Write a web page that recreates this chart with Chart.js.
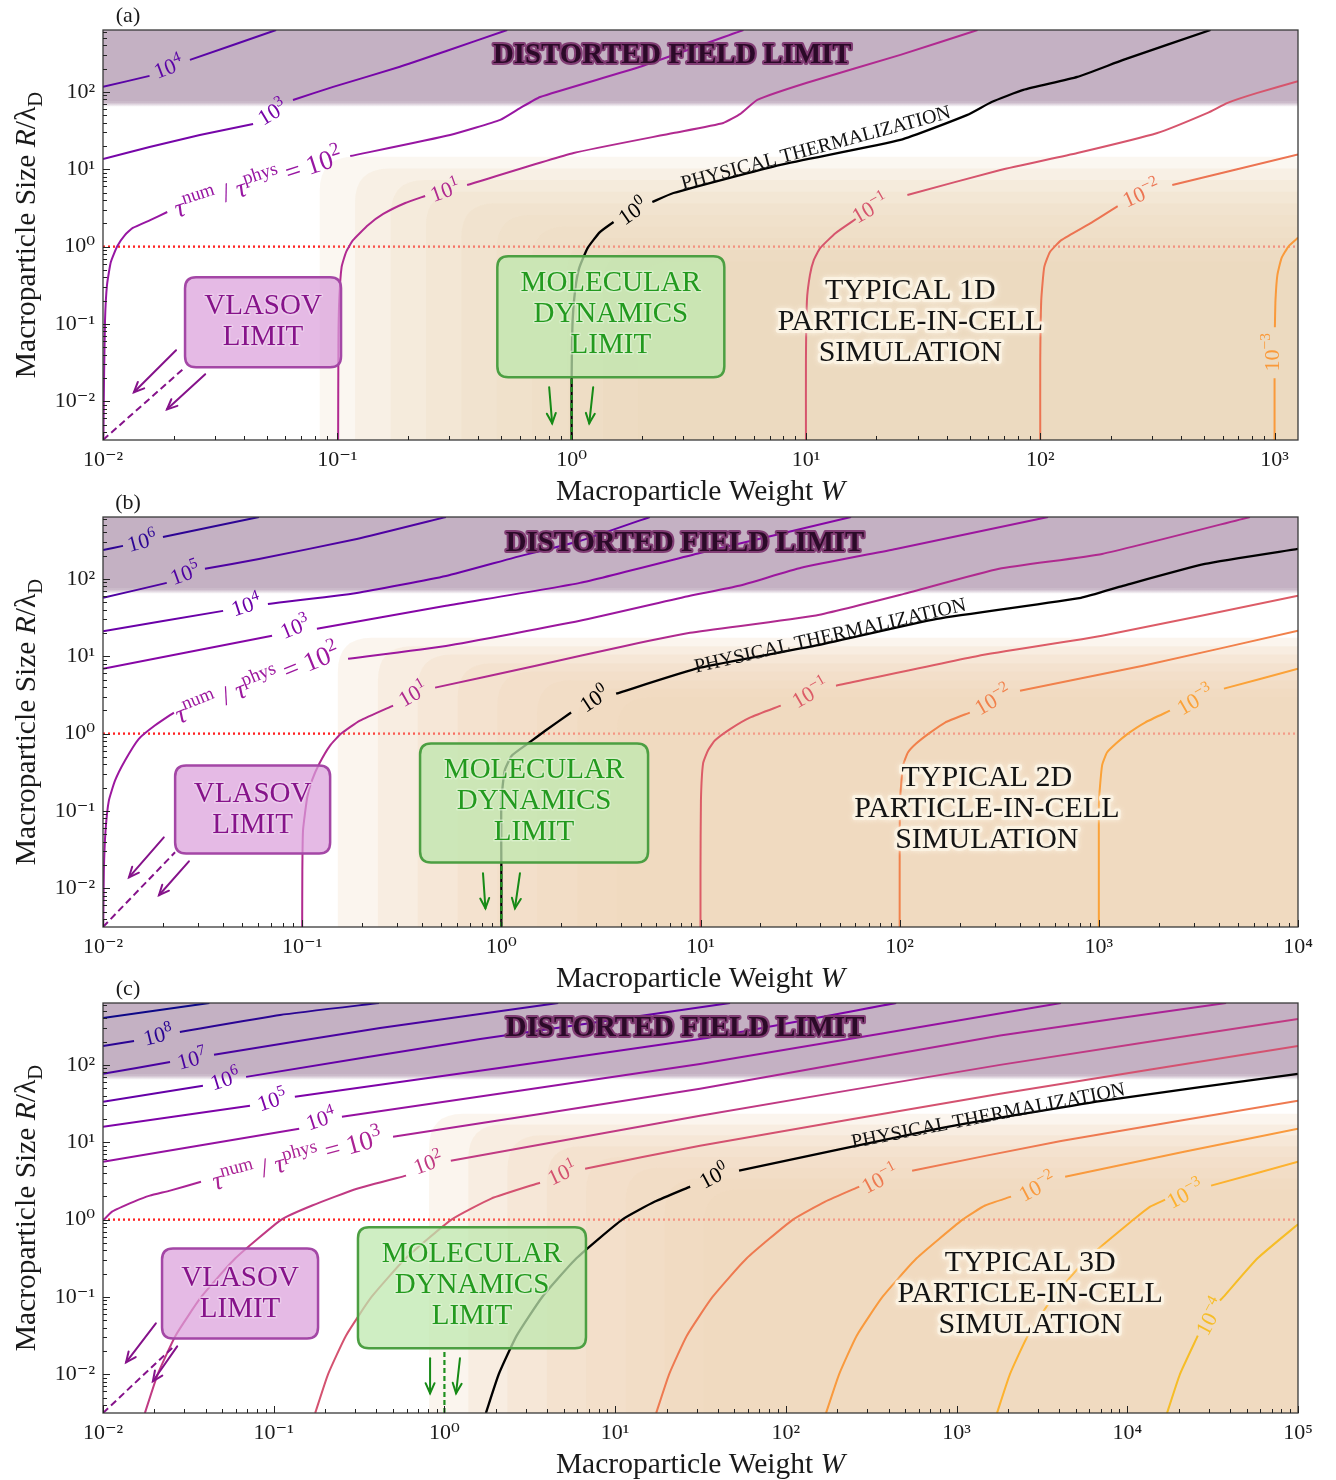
<!DOCTYPE html>
<html>
<head>
<meta charset="utf-8">
<title>Numerical vs physical relaxation time of macroparticles</title>
<script src="https://cdn.jsdelivr.net/npm/chart.js@4.4.1/dist/chart.umd.min.js"></script>
<style>
  html, body { margin: 0; padding: 0; background: #ffffff; }
  #wrap { position: relative; width: 1336px; height: 1480px; overflow: hidden; }
  #wrap canvas { position: absolute; left: 0; }
</style>
</head>
<body>
<div id="wrap">
  <canvas id="pa" width="1336" height="510" style="top:0px"></canvas>
  <canvas id="pb" width="1336" height="510" style="top:487px"></canvas>
  <canvas id="pc" width="1336" height="510" style="top:973px"></canvas>
</div>
<script>
const SERIF = '"Liberation Serif", "DejaVu Serif", serif';

// ---- axes -------------------------------------------------------------
const xMin = 0.01;
const xMaxA = 1259, xMaxB = 1e4, xMaxC = 1e5;
const yMin = 0.00316, yMax = 631;
const xTicksA = [1e-2, 1e-1, 1, 1e1, 1e2, 1e3];
const xTicksB = [1e-2, 1e-1, 1, 1e1, 1e2, 1e3, 1e4];
const xTicksC = [1e-2, 1e-1, 1, 1e1, 1e2, 1e3, 1e4, 1e5];
const yTicks = [1e-2, 1e-1, 1, 1e1, 1e2];
const xTickLabelsA = ['10⁻²', '10⁻¹', '10⁰', '10¹', '10²', '10³'];
const xTickLabelsB = ['10⁻²', '10⁻¹', '10⁰', '10¹', '10²', '10³', '10⁴'];
const xTickLabelsC = ['10⁻²', '10⁻¹', '10⁰', '10¹', '10²', '10³', '10⁴', '10⁵'];
const yTickLabels = ['10⁻²', '10⁻¹', '10⁰', '10¹', '10²'];

// ---- limits -----------------------------------------------------------
const distortedR = 70;   // R/λD above which the field is distorted
const debyeR = 1;        // R = λD

// ---- contours of τnum/τphys, [W, R] points (null = label gap) -----------
// (a) 1D
const a_lvl4 = [[0.01,116],[0.0158,161],null,[0.0235,259],[0.0548,631]];
const a_lvl3 = [[0.01,13.6],[0.0158,19.4],[0.0259,27.7],[0.0437,38.5],null,[0.0647,78.7],[0.096,116],[0.185,211],[0.294,340],[0.531,631]];
const a_lvl2 = [[0.01004,0.00316],[0.0101,0.0187],[0.0102,0.112],[0.0104,0.318],[0.0108,0.631],[0.0115,1.01],[0.0124,1.41],[0.0134,1.74],[0.0159,2.2],[0.0188,2.8],null,[0.1135,14.8],[0.303,27.7],[0.496,43.5],[0.604,62],[0.734,86],[1.96,211],[5.41,631]];
const a_lvl1 = [[0.1008,0.00316],[0.1011,0.0617],[0.1019,0.203],[0.1043,0.543],[0.109,0.85],[0.1167,1.21],[0.1355,1.9],[0.157,2.64],[0.195,3.66],[0.237,4.51],null,[0.358,6.25],[1.02,16.2],[2.72,29.4],[4.44,39.7],[5.25,51.9],[6.2,78.7],[10.1,131],[25.3,301],[54,631]];
const a_lvl0 = [[1.0,0.00316],[1.0,0.0187],[1.01,0.112],[1.035,0.274],[1.077,0.527],[1.17,0.957],[1.32,1.54],[1.51,2.08],null,[2.21,3.77],[2.72,4.93],[7.78,11.4],[25.3,23.9],[48.9,50.4],[62,74],[84.7,106],[144,156],[226,259],[533,631]];
const a_lvlm1 = [[10.0,0.00316],[10.0,0.034],[10.1,0.203],[10.4,0.428],[10.8,0.668],[11.5,0.957],[13.4,1.5],[16.3,2.27],null,[27.1,4.65],[67.6,9.77],[144,16.2],[316,29.4],[518,53.5],[630,72.1],[845,97],[1259,137]];
const a_lvlm2 = [[100,0.00316],[100,0.034],[101,0.203],[104,0.543],[110,0.85],[123,1.21],[164,2.01],[214,3.34],null,[366,6.25],[1259,15.5]];
const a_lvlm3 = [[1000,0.00316],[1000,0.0199],null,[1003,0.0908],[1009,0.203],[1028,0.428],[1071,0.71],[1148,1.01],[1259,1.3]];

// (b) 2D
const b_lvl6 = [[0.01,237],[0.0126,267],null,[0.02,348],[0.0607,631]];
const b_lvl5 = [[0.01,56.9],[0.0209,88.8],null,[0.0325,135],[0.0607,181],[0.188,328],[0.527,631]];
const b_lvl4 = [[0.01,21],[0.0401,38.6],null,[0.0673,47.5],[0.188,65.9],[0.527,109],[1.15,187],[2.48,309],[5.57,631]];
const b_lvl3 = [[0.01,6.9],[0.0706,18.4],null,[0.1186,22.6],[0.527,44.9],[2.48,88.8],[9.93,216],[57,631]];
const b_lvl2 = [[0.01003,0.00316],[0.0101,0.017],[0.0103,0.056],[0.0107,0.136],[0.0115,0.248],[0.0129,0.449],[0.0151,0.85],[0.0182,1.27],[0.0227,1.87],null,[0.17,9.29],[0.527,13.6],[2.48,28.7],[8.86,60.4],[15.6,81.3],[32,139],[95.7,244],[556,631]];
const b_lvl1 = [[0.1,0.00316],[0.1002,0.017],[0.101,0.056],[0.106,0.149],[0.112,0.248],[0.122,0.41],[0.138,0.7],[0.157,1.0],[0.195,1.47],[0.286,2.3],null,[0.465,3.93],[1.49,7.53],[4.18,13.6],[8.86,20.1],[37.2,33.3],[105,64],[316,135],[1038,210],[5740,631]];
const b_lvl0 = [[1.0,0.00316],[1.0,0.021],[1.0,0.136],[1.04,0.333],[1.13,0.52],[1.36,0.743],[1.66,1.09],[2.24,1.87],null,[3.77,3.28],[9.93,7.11],[37.2,13.6],[154,30.5],[813,56.9],[1321,81.3],[3410,156],[10000,244]];
const b_lvlm1 = [[10,0.00316],[10,0.017],[10.05,0.136],[10.3,0.41],[10.9,0.604],[11.8,0.813],[14.2,1.16],[17.7,1.61],[25.3,2.3],null,[47.9,4.16],[247,10.1],[1038,18.4],[10000,60.4]];
const b_lvlm2 = [[100,0.00316],[100,0.017],[100.4,0.136],[104,0.386],[110,0.569],[121,0.743],[140,1.0],[169,1.39],[225,1.87],null,[402,3.59],[1667,7.53],[10000,21.3]];
const b_lvlm3 = [[1000,0.00316],[1000,0.017],[1002,0.136],[1038,0.386],[1099,0.569],[1219,0.743],[1400,1.0],[1706,1.39],[2275,1.98],null,[4246,3.81],[10000,6.9]];

// (c) 3D
const c_lvl9 = [[0.01,404],[0.042,631]];
const c_lvl8 = [[0.01,176],[0.0152,204],null,[0.0282,267],[0.109,442],[0.414,631]];
const c_lvl7 = [[0.01,76.6],[0.0247,109],null,[0.0447,135],[0.42,300],[4.64,631]];
const c_lvl6 = [[0.01,33.3],[0.0385,53.6],null,[0.0689,70],[1.62,216],[47.1,631]];
const c_lvl5 = [[0.01,15.8],[0.0726,29.6],null,[0.133,38.6],[31.4,216],[443,631]];
const c_lvl4 = [[0.01,5.6],[0.141,14.9],null,[0.251,21.3],[31.4,103],[4090,631]];
const c_lvl3 = [[0.01,0.97],[0.0113,1.27],[0.0152,1.71],[0.0188,2.04],[0.0247,2.37],[0.0375,3.09],null,[0.5,11.8],[31.4,49],[1800,240],[37900,631]];
const c_lvl2 = [[0.0176,0.00316],[0.0209,0.01],[0.0266,0.0316],[0.0376,0.1],[0.0596,0.316],[0.111,1.0],[0.168,1.52],[0.307,2.51],[0.596,3.7],null,[1.09,5.77],[31.4,22],[1800,100],[100000,393]];
const c_lvl1 = [[0.175,0.00316],[0.208,0.01],[0.265,0.0316],[0.374,0.1],[0.593,0.316],[1.1,1.0],[1.88,1.87],[3.63,3.0],null,[6.67,4.55],[31.4,9.02],[1800,42.3],[100000,176]];
const c_lvl0 = [[1.75,0.00316],[2.08,0.01],[2.65,0.0316],[3.74,0.1],[5.93,0.316],[11.0,1.0],[17.1,1.71],[27.5,2.67],null,[53.2,4.29],[769,14.9],[7120,34.3],[100000,76.6]];
const c_lvlm1 = [[17.4,0.00316],[20.7,0.01],[26.3,0.0316],[37.2,0.1],[59,0.316],[110,1.0],[170,1.71],[269,2.67],null,[549,4.29],[4090,10.4],[100000,34.3]];
const c_lvlm2 = [[172,0.00316],[205,0.01],[260,0.0316],[368,0.1],[583,0.316],[1085,1.0],[1469,1.52],[2085,1.98],null,[4325,3.59],[21500,7.53],[100000,14.9]];
const c_lvlm3 = [[1726,0.00316],[2052,0.01],[2613,0.0316],[3690,0.1],[5848,0.316],[10890,1.0],[13610,1.47],[16650,1.81],null,[30970,2.75],[100000,5.6]];
const c_lvlm4 = [[17100,0.00316],[20330,0.01],[25890,0.0316],null,[34900,0.09],[36560,0.1],[57940,0.316],[100000,0.87]];

// ---- typical PIC operating region (nested levels) ----------------------
const picLeftA = [0.0841, 0.119, 0.169, 0.239, 0.338, 0.479, 0.678, 0.96, 1.36, 1.92];
const picTopA  = [14.5, 10.2, 7.24, 5.13, 3.63, 2.57, 1.82, 1.29, 0.912, 0.646];
const picLeftB = [0.151, 0.24, 0.38, 0.603, 0.955, 1.51, 2.4, 3.8];
const picTopB  = [17.4, 13.5, 10.5, 8.13, 6.31, 4.9, 3.8, 2.95];
const picLeftC = [0.813, 1.38, 2.34, 3.98, 6.76, 11.5, 19.5, 33.1];
const picTopC  = [23.4, 17, 12.3, 8.9, 6.46, 4.68, 3.39, 2.45];

// ---- Vlasov and molecular-dynamics limit lines -------------------------
const vlasovA = [[0.01,0.00316],[0.0224,0.0275]];
const vlasovB = [[0.01,0.00316],[0.023,0.0292]];
const vlasovC = [[0.01,0.00316],[0.0264,0.0237]];
const mdA = [[1,0.00316],[1,0.0205]];
const mdB = [[1,0.00316],[1,0.021]];
const mdC = [[1,0.00316],[1,0.0204]];

// ---- panel descriptions -------------------------------------------------
const panels = [
  {
    id: 'pa', tag: '(a)', dim: '1D', xMax: xMaxA, xTicks: xTicksA, xTickLabels: xTickLabelsA,
    picLeft: picLeftA, picTop: picTopA, vlasovLine: vlasovA, mdLine: mdA,
    contours: [
      { data: a_lvl4,  color: '#5a04a6', exp: 4,  at: [0.019, 211],  angle: -21 },
      { data: a_lvl3,  color: '#7605a8', exp: 3,  at: [0.0527, 55],  angle: -31 },
      { data: a_lvl2,  color: '#9716a2', exp: 2,  at: [0.0459, 6.84], angle: -18, tau: true },
      { data: a_lvl1,  color: '#b12a90', exp: 1,  at: [0.288, 5.38], angle: -20 },
      { data: a_lvl0,  color: '#000000', exp: 0,  at: [1.82, 2.88],  angle: -35 },
      { data: a_lvlm1, color: '#d6556d', exp: -1, at: [18.8, 3.15],  angle: -30 },
      { data: a_lvlm2, color: '#ec7452', exp: -2, at: [270, 4.93],   angle: -24 },
      { data: a_lvlm3, color: '#fa9a3b', exp: -3, at: [970, 0.043],  angle: -90 }
    ],
    phys: { at: [11.0, 19.4], angle: -15 },
    vlasovBox: { at: [0.0482, 0.105], w: 156, h: 90 },
    mdBox: { at: [1.47, 0.124], w: 227, h: 121 },
    typical: [27.9, 0.105], distorted: [2.69, 320],
    arrowsV: [[[0.0205,0.0457],[0.01355,0.0131]], [[0.0273,0.0224],[0.01875,0.00787]]],
    arrowsMD: [[[0.802,0.0152],[0.826,0.00519]], [[1.236,0.0152],[1.189,0.00519]]]
  },
  {
    id: 'pb', tag: '(b)', dim: '2D', xMax: xMaxB, xTicks: xTicksB, xTickLabels: xTickLabelsB,
    picLeft: picLeftB, picTop: picTopB, vlasovLine: vlasovB, mdLine: mdB,
    contours: [
      { data: b_lvl6,  color: '#2d0594', exp: 6,  at: [0.0157, 309], angle: -15 },
      { data: b_lvl5,  color: '#4e02a2', exp: 5,  at: [0.0258, 119], angle: -20 },
      { data: b_lvl4,  color: '#6a00a8', exp: 4,  at: [0.0523, 46.2], angle: -18 },
      { data: b_lvl3,  color: '#8606a6', exp: 3,  at: [0.092, 24],   angle: -22 },
      { data: b_lvl2,  color: '#9c179e', exp: 2,  at: [0.0593, 4.55], angle: -22, tau: true },
      { data: b_lvl1,  color: '#b02a8f', exp: 1,  at: [0.36, 3.28],  angle: -30 },
      { data: b_lvl0,  color: '#000000', exp: 0,  at: [2.92, 2.83],  angle: -33 },
      { data: b_lvlm1, color: '#dc5c67', exp: -1, at: [35.5, 3.38],  angle: -30 },
      { data: b_lvlm2, color: '#f1814b', exp: -2, at: [294, 2.75],   angle: -30 },
      { data: b_lvlm3, color: '#fba238', exp: -3, at: [3040, 2.75],  angle: -30 }
    ],
    phys: { at: [44.7, 18.9], angle: -13 },
    vlasovBox: { at: [0.0564, 0.1045], w: 155, h: 88 },
    mdBox: { at: [1.46, 0.127], w: 228, h: 119 },
    typical: [274, 0.1045], distorted: [8.36, 309],
    arrowsV: [[[0.0202,0.0455],[0.0135,0.01387]], [[0.027,0.0223],[0.0191,0.00813]]],
    arrowsMD: [[[0.809,0.0156],[0.832,0.00552]], [[1.24,0.0156],[1.17,0.00552]]]
  },
  {
    id: 'pc', tag: '(c)', dim: '3D', xMax: xMaxC, xTicks: xTicksC, xTickLabels: xTickLabelsC,
    picLeft: picLeftC, picTop: picTopC, vlasovLine: vlasovC, mdLine: mdC,
    contours: [
      { data: c_lvl9,  color: '#0d0887', exp: 9,  at: null },
      { data: c_lvl8,  color: '#2a0593', exp: 8,  at: [0.021, 244],  angle: -14 },
      { data: c_lvl7,  color: '#4903a0', exp: 7,  at: [0.0332, 120], angle: -15 },
      { data: c_lvl6,  color: '#6500a7', exp: 6,  at: [0.0519, 65.9], angle: -17 },
      { data: c_lvl5,  color: '#7e03a8', exp: 5,  at: [0.0977, 35.3], angle: -18 },
      { data: c_lvl4,  color: '#9511a1', exp: 4,  at: [0.189, 20.1], angle: -18 },
      { data: c_lvl3,  color: '#aa2395', exp: 3,  at: [0.137, 6.12], angle: -15, tau: true },
      { data: c_lvl2,  color: '#c03a83', exp: 2,  at: [0.802, 5.44], angle: -20 },
      { data: c_lvl1,  color: '#d45270', exp: 1,  at: [4.89, 4.04],  angle: -25 },
      { data: c_lvl0,  color: '#000000', exp: 0,  at: [37.9, 3.7],   angle: -28 },
      { data: c_lvlm1, color: '#ee7a51', exp: -1, at: [356, 3.38],   angle: -28 },
      { data: c_lvlm2, color: '#f99a3e', exp: -2, at: [2965, 2.67],  angle: -28 },
      { data: c_lvlm3, color: '#fdb22f', exp: -3, at: [21800, 2.16], angle: -28 },
      { data: c_lvlm4, color: '#f6bd27', exp: -4, at: [30550, 0.056], angle: -62 }
    ],
    phys: { at: [1531, 22.6], angle: -11 },
    vlasovBox: { at: [0.0635, 0.111], w: 156, h: 90 },
    mdBox: { at: [1.45, 0.131], w: 228, h: 121 },
    typical: [2700, 0.108], distorted: [25.7, 318],
    arrowsV: [[[0.0204,0.0455],[0.01365,0.0143]], [[0.0272,0.023],[0.0196,0.00813]]],
    arrowsMD: [[[0.824,0.0161],[0.824,0.00569]], [[1.233,0.0161],[1.17,0.00569]]]
  }
];

// ---- text helpers --------------------------------------------------------
function segFont(kind, size, bold) {
  const s = (kind === 's' || kind === 'b') ? size * 0.7 : size;
  return (kind === 'i' ? 'italic ' : '') + (bold ? 'bold ' : '') + s.toFixed(1) + 'px ' + SERIF;
}
function richWidth(ctx, segs, size) {
  let w = 0;
  for (const [t, k] of segs) { ctx.font = segFont(k, size); w += ctx.measureText(t).width; }
  return w;
}
function drawRich(ctx, segs, x, y, size, color, angle) {
  ctx.save();
  ctx.translate(x, y);
  ctx.rotate((angle || 0) * Math.PI / 180);
  const w = richWidth(ctx, segs, size);
  let cx = -w / 2;
  const base = size * 0.34;
  ctx.textAlign = 'left';
  ctx.textBaseline = 'alphabetic';
  ctx.fillStyle = color;
  for (const [t, k] of segs) {
    ctx.font = segFont(k, size);
    const dy = k === 's' ? -size * 0.4 : (k === 'b' ? size * 0.22 : 0);
    ctx.fillText(t, cx, base + dy);
    cx += ctx.measureText(t).width;
  }
  ctx.restore();
}
function haloText(ctx, text, x, y, font, fill, halo, haloW, blur) {
  ctx.save();
  ctx.font = font;
  ctx.textAlign = 'center';
  ctx.textBaseline = 'middle';
  if (halo) {
    ctx.lineJoin = 'round';
    ctx.strokeStyle = halo;
    ctx.lineWidth = haloW;
    if (blur) { ctx.shadowColor = halo; ctx.shadowBlur = blur; }
    ctx.strokeText(text, x, y);
    ctx.shadowBlur = 0;
  }
  ctx.fillStyle = fill;
  ctx.fillText(text, x, y);
  ctx.restore();
}
function roundRect(ctx, x, y, w, h, r) {
  ctx.beginPath();
  ctx.moveTo(x + r, y);
  ctx.lineTo(x + w - r, y);
  ctx.quadraticCurveTo(x + w, y, x + w, y + r);
  ctx.lineTo(x + w, y + h - r);
  ctx.quadraticCurveTo(x + w, y + h, x + w - r, y + h);
  ctx.lineTo(x + r, y + h);
  ctx.quadraticCurveTo(x, y + h, x, y + h - r);
  ctx.lineTo(x, y + r);
  ctx.quadraticCurveTo(x, y, x + r, y);
  ctx.closePath();
}
function arrow(ctx, x0, y0, x1, y1, color) {
  ctx.save();
  ctx.strokeStyle = color;
  ctx.lineWidth = 2;
  ctx.lineCap = 'round';
  ctx.beginPath(); ctx.moveTo(x0, y0); ctx.lineTo(x1, y1); ctx.stroke();
  const a = Math.atan2(y1 - y0, x1 - x0), L = 11, s = 0.42;
  ctx.beginPath();
  ctx.moveTo(x1 - L * Math.cos(a - s), y1 - L * Math.sin(a - s));
  ctx.lineTo(x1, y1);
  ctx.lineTo(x1 - L * Math.cos(a + s), y1 - L * Math.sin(a + s));
  ctx.stroke();
  ctx.restore();
}
function dottedRow(ctx, ca, yPix, color) {
  ctx.strokeStyle = color;
  ctx.lineWidth = 2.2;
  ctx.setLineDash([2, 3]);
  ctx.beginPath(); ctx.moveTo(ca.left, yPix); ctx.lineTo(ca.right, yPix); ctx.stroke();
  ctx.setLineDash([]);
}

const toXY = arr => arr.map(p => p ? { x: p[0], y: p[1] } : { x: null, y: null });

// ---- per-panel drawing plugin -----------------------------------------------
function decor(P) {
  return {
    id: 'decor_' + P.id,
    beforeDatasetsDraw(chart) {
      const { ctx, chartArea: ca, scales: { x, y } } = chart;
      ctx.save();
      ctx.beginPath(); ctx.rect(ca.left, ca.top, ca.width, ca.height); ctx.clip();

      // distorted-field band
      const yb = y.getPixelForValue(distortedR);
      ctx.fillStyle = 'rgb(196,177,195)';
      ctx.fillRect(ca.left, ca.top, ca.width, yb - ca.top - 2);
      const g = ctx.createLinearGradient(0, yb - 2, 0, yb + 3);
      g.addColorStop(0, 'rgba(196,177,195,1)');
      g.addColorStop(1, 'rgba(196,177,195,0)');
      ctx.fillStyle = g;
      ctx.fillRect(ca.left, yb - 2, ca.width, 5);

      // R = λD reference line
      const y1 = y.getPixelForValue(debyeR);
      dottedRow(ctx, ca, y1, '#ff1a1a');

      // typical PIC region, nested levels
      const n = P.picLeft.length;
      const alpha = 1 - Math.pow(0.11, 1 / n);
      const tan = [255 - 16 / 0.89, 255 - 38 / 0.89, 255 - 64 / 0.89].map(v => Math.round(v));
      ctx.fillStyle = `rgba(${tan[0]},${tan[1]},${tan[2]},${alpha.toFixed(3)})`;
      for (let k = 0; k < n; k++) {
        const x0 = x.getPixelForValue(P.picLeft[k]);
        const y0 = y.getPixelForValue(P.picTop[k]);
        const r = 34;
        ctx.beginPath();
        ctx.moveTo(x0, ca.bottom + 2);
        ctx.lineTo(x0, y0 + r);
        ctx.quadraticCurveTo(x0, y0, x0 + r, y0);
        ctx.lineTo(ca.right + 2, y0);
        ctx.lineTo(ca.right + 2, ca.bottom + 2);
        ctx.closePath();
        ctx.fill();
      }
      // reference line shows faintly through the shaded region
      dottedRow(ctx, ca, y1, 'rgba(255,60,60,0.28)');
      ctx.restore();
    },
    afterDatasetsDraw(chart) {
      const { ctx, chartArea: ca, scales: { x, y } } = chart;
      const px = p => [x.getPixelForValue(p[0]), y.getPixelForValue(p[1])];

      // contour labels
      for (const c of P.contours) {
        if (!c.at) continue;
        const [lx, ly] = px(c.at);
        const e = c.exp < 0 ? '\u2212' + (-c.exp) : String(c.exp);
        const segs = c.tau
          ? [['τ', 'i'], ['num', 's'], [' / ', ''], ['τ', 'i'], ['phys', 's'], [' = 10', ''], [e, 's']]
          : [['10', ''], [e, 's']];
        drawRich(ctx, segs, lx, ly, c.tau ? 27 : 22, c.color, c.angle);
      }
      const [phx, phy] = px(P.phys.at);
      drawRich(ctx, [['PHYSICAL THERMALIZATION', '']], phx, phy, 20, '#111111', P.phys.angle);

      // distorted-field caption
      const [dx, dy] = px(P.distorted);
      ctx.save();
      ctx.font = 'bold 30px ' + SERIF;
      const fs = 30 * 358 / ctx.measureText('DISTORTED FIELD LIMIT').width;
      haloText(ctx, 'DISTORTED FIELD LIMIT', dx, dy + 3, 'bold ' + fs.toFixed(1) + 'px ' + SERIF,
               '#2b0a28', 'rgba(125,55,112,0.95)', 4);
      ctx.restore();

      // typical PIC caption
      const [tx, ty] = px(P.typical);
      const tfont = '30px ' + SERIF;
      ['TYPICAL ' + P.dim, 'PARTICLE-IN-CELL', 'SIMULATION'].forEach((t, i) =>
        haloText(ctx, t, tx, ty + (i - 1) * 31, tfont, '#141414', 'rgba(252,243,228,0.95)', 6, 5));

      // Vlasov box
      const [vx, vy] = px(P.vlasovBox.at);
      const vb = P.vlasovBox;
      ctx.save();
      roundRect(ctx, vx - vb.w / 2, vy - vb.h / 2, vb.w, vb.h, 11);
      ctx.fillStyle = 'rgba(219,160,219,0.72)';
      ctx.fill();
      ctx.strokeStyle = '#a447a6';
      ctx.lineWidth = 2.5;
      ctx.stroke();
      ctx.restore();
      ['VLASOV', 'LIMIT'].forEach((t, i) =>
        haloText(ctx, t, vx, vy + (i - 0.5) * 31, '29px ' + SERIF, '#86138a', 'rgba(240,215,240,0.6)', 3));

      // molecular-dynamics box
      const [mx, my] = px(P.mdBox.at);
      const mb = P.mdBox;
      ctx.save();
      roundRect(ctx, mx - mb.w / 2, my - mb.h / 2, mb.w, mb.h, 11);
      ctx.fillStyle = 'rgba(190,232,174,0.74)';
      ctx.fill();
      ctx.strokeStyle = '#4c9f42';
      ctx.lineWidth = 2.5;
      ctx.stroke();
      ctx.restore();
      ['MOLECULAR', 'DYNAMICS', 'LIMIT'].forEach((t, i) =>
        haloText(ctx, t, mx, my - 2 + (i - 1) * 31, '29px ' + SERIF, '#239a1f', 'rgba(225,245,215,0.6)', 3));

      // arrows towards each limit
      for (const a of P.arrowsV) { const [p0, p1] = [px(a[0]), px(a[1])]; arrow(ctx, p0[0], p0[1], p1[0], p1[1], '#85128a'); }
      for (const a of P.arrowsMD) { const [p0, p1] = [px(a[0]), px(a[1])]; arrow(ctx, p0[0], p0[1], p1[0], p1[1], '#168a16'); }

      // frame
      ctx.save();
      ctx.strokeStyle = '#3a3a3a';
      ctx.lineWidth = 1.3;
      ctx.strokeRect(ca.left, ca.top, ca.width, ca.height);

      // inward log ticks
      ctx.strokeStyle = '#222';
      ctx.lineWidth = 1;
      const logTicks = (scale, horizontal) => {
        const lo = Math.floor(Math.log10(scale.min)), hi = Math.ceil(Math.log10(scale.max));
        for (let e = lo; e <= hi; e++) {
          for (let m = 1; m < 10; m++) {
            const v = m * Math.pow(10, e);
            if (v < scale.min * 0.999 || v > scale.max * 1.001) continue;
            const p = Math.round(scale.getPixelForValue(v)) + 0.5;
            const len = m === 1 ? 7 : 4;
            ctx.beginPath();
            if (horizontal) { ctx.moveTo(p, ca.bottom); ctx.lineTo(p, ca.bottom - len); }
            else { ctx.moveTo(ca.left, p); ctx.lineTo(ca.left + len, p); }
            ctx.stroke();
          }
        }
      };
      logTicks(x, true);
      logTicks(y, false);
      ctx.restore();
    },
    afterDraw(chart) {
      const { ctx, chartArea: ca } = chart;
      drawRich(ctx, [['Macroparticle Weight ', ''], ['W', 'i']],
               (ca.left + ca.right) / 2, ca.bottom + 50, 29.5, '#1a1a1a', 0);
      drawRich(ctx, [['Macroparticle Size ', ''], ['R', 'i'], ['/', ''], ['λ', ''], ['D', 'b']],
               25, (ca.top + ca.bottom) / 2, 29.5, '#1a1a1a', -90);
      drawRich(ctx, [[P.tag, '']], ca.left + 25, ca.top - 15, 22, '#1a1a1a', 0);
    }
  };
}

// ---- build charts ------------------------------------------------------------
function buildChart(P) {
  const common = { showLine: true, pointRadius: 0, pointHoverRadius: 0, fill: false, spanGaps: false };
  const datasets = [
    Object.assign({ label: 'Molecular dynamics limit', data: toXY(P.mdLine), borderColor: '#1f901f',
                    borderWidth: 2.2, borderDash: [5, 3], tension: 0, order: 0 }, common),
    Object.assign({ label: 'Vlasov limit', data: toXY(P.vlasovLine), borderColor: '#85128a',
                    borderWidth: 2, borderDash: [7, 4], tension: 0, order: 0 }, common)
  ];
  P.contours.forEach(c => datasets.push(Object.assign({
    label: 'τnum/τphys = 1e' + c.exp, data: toXY(c.data), borderColor: c.color,
    borderWidth: c.exp === 0 ? 2.3 : 2, tension: 0.15, order: 1
  }, common)));

  return new Chart(document.getElementById(P.id), {
    type: 'scatter',
    data: { datasets },
    options: {
      responsive: false,
      animation: false,
      devicePixelRatio: 1,
      events: [],
      layout: { padding: { top: 30, right: 38, left: 0, bottom: 0 } },
      plugins: { legend: { display: false }, tooltip: { enabled: false } },
      scales: {
        x: {
          type: 'logarithmic', position: 'bottom', min: xMin, max: P.xMax,
          afterBuildTicks: s => { s.ticks = P.xTicks.map(v => ({ value: v })); },
          afterFit: s => { s.height = 70; },
          grid: { display: false, drawTicks: false },
          border: { display: false },
          ticks: {
            autoSkip: false, maxRotation: 0, padding: 7, color: '#1a1a1a',
            font: { family: SERIF, size: 22 },
            callback: (v, i) => P.xTickLabels[i]
          }
        },
        y: {
          type: 'logarithmic', position: 'left', min: yMin, max: yMax,
          afterBuildTicks: s => { s.ticks = yTicks.map(v => ({ value: v })); },
          afterFit: s => { s.width = 103; },
          grid: { display: false, drawTicks: false },
          border: { display: false },
          ticks: {
            autoSkip: false, padding: 8, color: '#1a1a1a',
            font: { family: SERIF, size: 22 },
            callback: (v, i) => yTickLabels[i]
          }
        }
      }
    },
    plugins: [decor(P)]
  });
}

panels.forEach(buildChart);
</script>
</body>
</html>
